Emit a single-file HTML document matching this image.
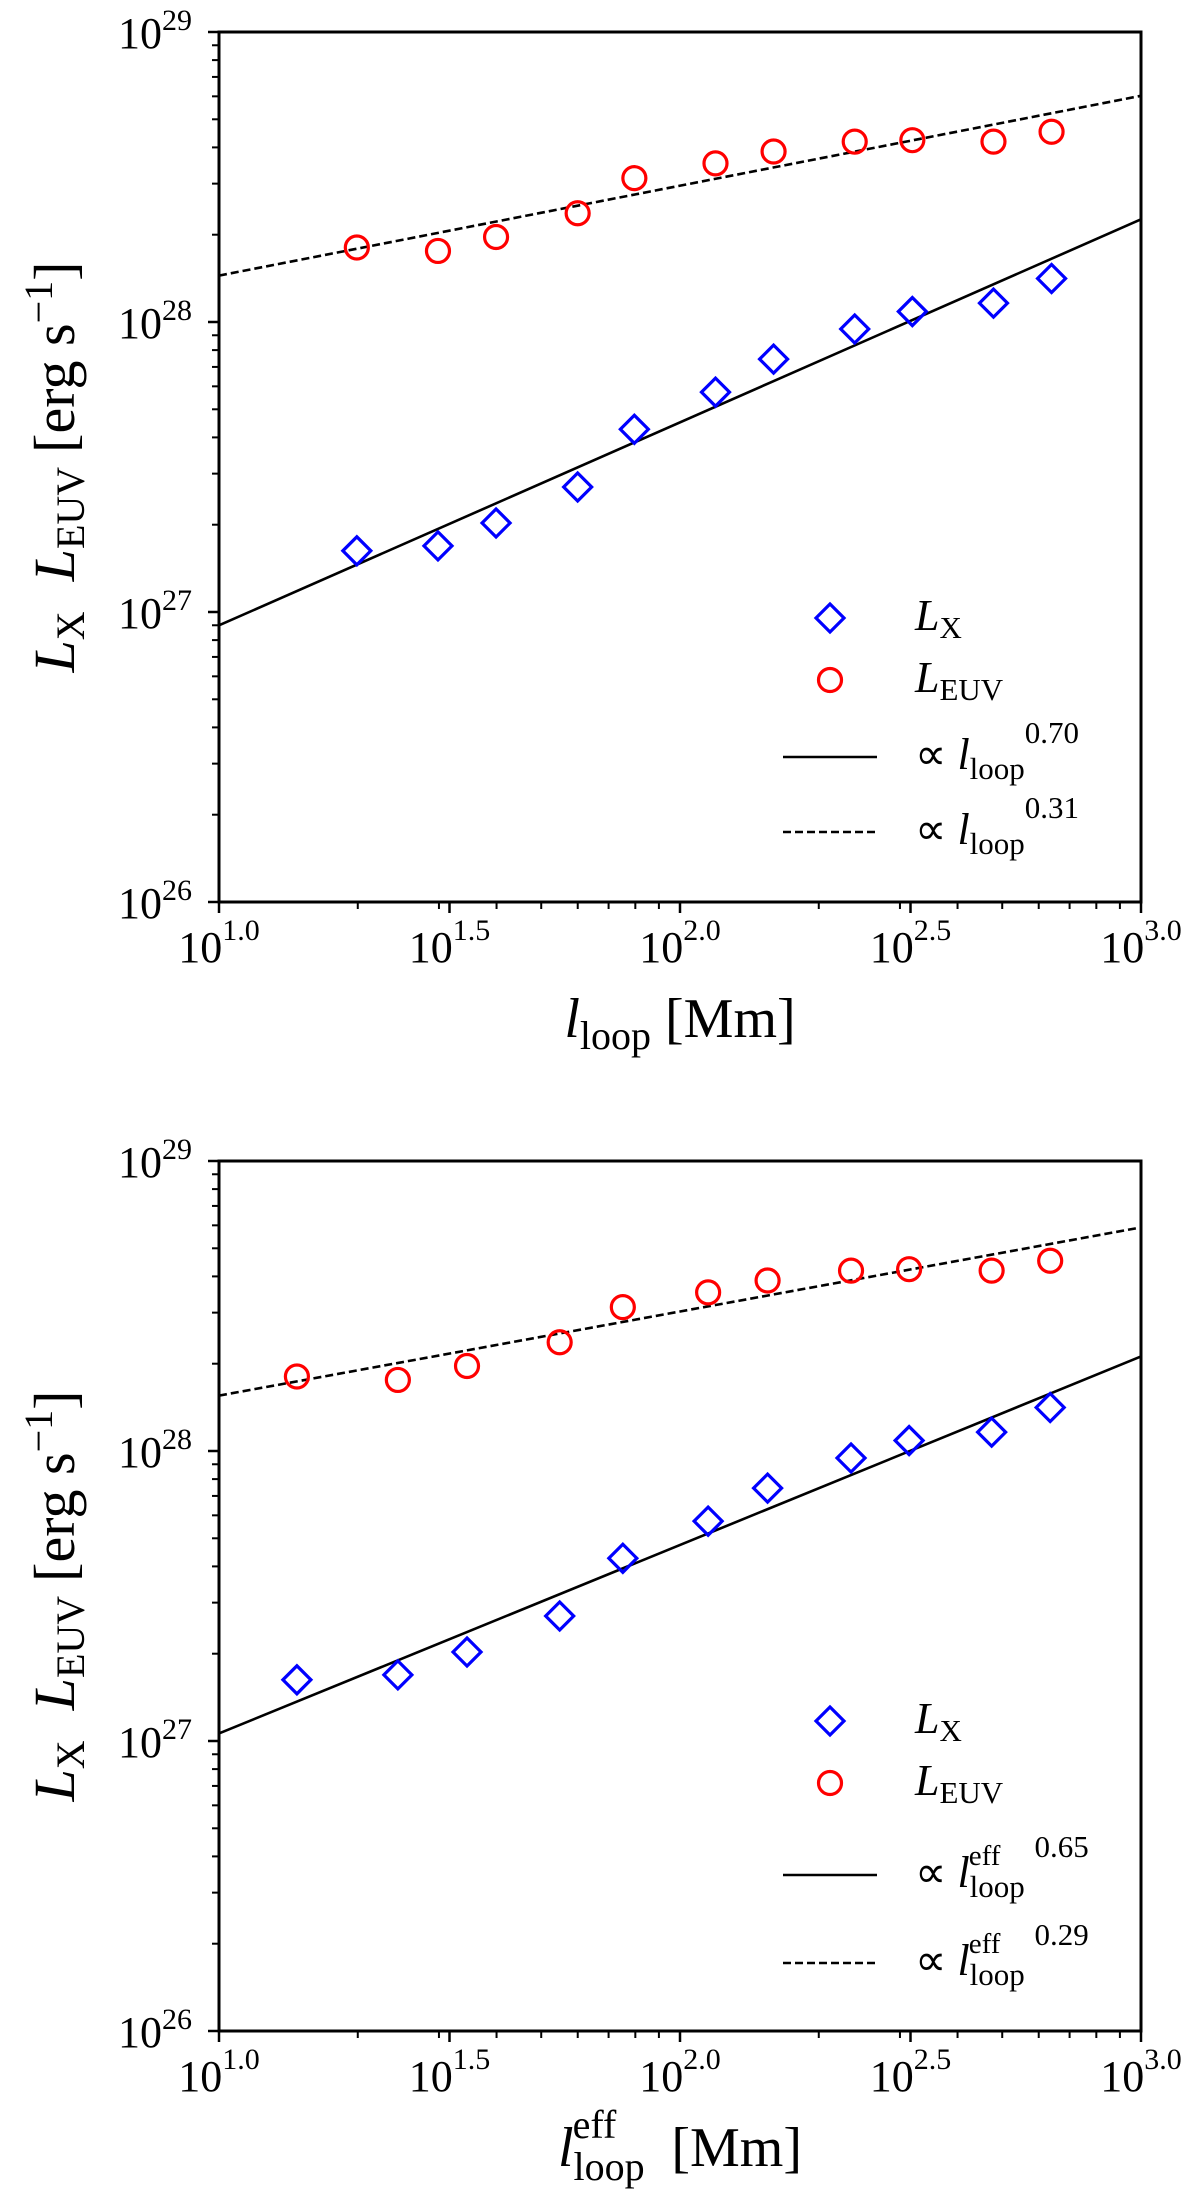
<!DOCTYPE html>
<html><head><meta charset="utf-8"><style>
html,body{margin:0;padding:0;background:#fff;}
svg{display:block;font-family:"Liberation Serif",serif;}
</style></head><body>
<svg id="fig" width="1200" height="2202" viewBox="0 0 1200 2202" xmlns="http://www.w3.org/2000/svg"></svg>
<script>
// Data (log10 values)
const topLogL = [1.299,1.475,1.601,1.778,1.901,2.077,2.203,2.379,2.504,2.680,2.806];
const botLogL = [1.169,1.388,1.538,1.739,1.876,2.061,2.190,2.371,2.497,2.676,2.803];
const logLX = [27.211,27.228,27.307,27.431,27.630,27.758,27.872,27.976,28.036,28.065,28.150];
const logLEUV = [28.257,28.245,28.293,28.375,28.496,28.547,28.588,28.622,28.627,28.622,28.656];
const topFitX = [26.954, 0.70];
const topFitEUV = [28.160, 0.31];
const botFitX = [27.026, 0.65];
const botFitEUV = [28.191, 0.29];
const xTickLabels = ["1.0","1.5","2.0","2.5","3.0"];
const yTickLabels = ["26","27","28","29"];

const NS="http://www.w3.org/2000/svg";
const svg=document.getElementById('fig');
function mk(tag,attrs,parent){const e=document.createElementNS(NS,tag);for(const k in attrs)e.setAttribute(k,attrs[k]);(parent||svg).appendChild(e);return e;}

function panel(top, logL, fitX, fitEUV, eff, name){
  const L=219,R=1141,T=top,B=top+870;
  const xs=v=>L+(v-1)/2*(R-L);
  const ys=v=>B-(v-26)/3*(B-T);
  const g=mk('g',{});
  
  
  const l1=mk('line',{x1:xs(1),y1:ys(fitX[0]),x2:xs(3),y2:ys(fitX[0]+2*fitX[1]),stroke:'#000','stroke-width':2.6},g);
  
  
  const l2=mk('line',{x1:xs(1),y1:ys(fitEUV[0]),x2:xs(3),y2:ys(fitEUV[0]+2*fitEUV[1]),stroke:'#000','stroke-width':2.6,'stroke-dasharray':'8,4'},g);
  
  
  logL.forEach((v,i)=>{
    const cx=xs(v),cy=ys(logLX[i]);
    const d=mk('polygon',{points:`${cx},${cy-14} ${cx+14},${cy} ${cx},${cy+14} ${cx-14},${cy}`,fill:'none',stroke:'#0000ff','stroke-width':3.2},g);
    
    
    const c=mk('circle',{cx:cx,cy:ys(logLEUV[i]),r:11.5,fill:'none',stroke:'#ff0000','stroke-width':3.2},g);
    
    
  });
  const f=mk('rect',{x:L,y:T,width:R-L,height:B-T,fill:'none',stroke:'#000','stroke-width':3},g);
  
  
  yTickLabels.forEach((lab,i)=>{
    const e=+lab, y=ys(e);
    mk('line',{x1:L-11,y1:y,x2:L,y2:y,stroke:'#000','stroke-width':2.5},g);
    const t=mk('text',{x:L-27,y:y+16,'text-anchor':'end','font-size':44},g);
    
    
    t.innerHTML=`10<tspan dy="-18" font-size="30">${lab}</tspan>`;
    if(i<yTickLabels.length-1){for(let m=2;m<=9;m++){const yy=ys(e+Math.log10(m));mk('line',{x1:L-7,y1:yy,x2:L,y2:yy,stroke:'#000','stroke-width':2},g);}}
  });
  xTickLabels.forEach(lab=>{
    const v=+lab,x=xs(v);
    mk('line',{x1:x,y1:B,x2:x,y2:B+11,stroke:'#000','stroke-width':2.5},g);
    const t=mk('text',{x:x,y:B+60,'text-anchor':'middle','font-size':44},g);
    
    
    t.innerHTML=`10<tspan dy="-22" font-size="30">${lab}</tspan>`;
  });
  for(let d=1;d<=2;d++)for(let m=2;m<=9;m++){const x=xs(d+Math.log10(m));mk('line',{x1:x,y1:B,x2:x,y2:B+7,stroke:'#000','stroke-width':2},g);}
  const yl=mk('text',{transform:`translate(74,${(T+B)/2}) rotate(-90)`,'text-anchor':'middle','font-size':58},g);
  
  
  yl.innerHTML=`<tspan font-style="italic">L</tspan><tspan dy="10" font-size="40">X</tspan><tspan dx="30" dy="-10" font-style="italic">L</tspan><tspan dy="10" font-size="40">EUV</tspan><tspan dx="14" dy="-10">[erg s</tspan><tspan dy="-22" font-size="40">−1</tspan><tspan dy="22">]</tspan>`;
  const xl=mk('text',{x:(L+R)/2,y:B+135,'text-anchor':'middle','font-size':56},g);
  
  
  xl.innerHTML=eff?`<tspan font-style="italic">l</tspan><tspan dy="14" font-size="40">loop</tspan><tspan dx="-72" dy="-42" font-size="40">eff</tspan><tspan dx="55" dy="28">[Mm]</tspan>`:`<tspan font-style="italic">l</tspan><tspan dy="12" font-size="40">loop</tspan><tspan dx="14" dy="-12">[Mm]</tspan>`;
  const ly = eff ? T+560 : T+586;
  const sp = eff ? [0,62,154,242] : [0,62,139,214];
  const lg=mk('g',{},g);
  
  
  const dx=830;
  mk('polygon',{points:`${dx},${ly-14} ${dx+14},${ly} ${dx},${ly+14} ${dx-14},${ly}`,fill:'none',stroke:'#0000ff','stroke-width':3.2},lg);
  mk('circle',{cx:dx,cy:ly+sp[1],r:11.5,fill:'none',stroke:'#ff0000','stroke-width':3.2},lg);
  mk('line',{x1:783,y1:ly+sp[2],x2:877,y2:ly+sp[2],stroke:'#000','stroke-width':2.6},lg);
  mk('line',{x1:783,y1:ly+sp[3],x2:877,y2:ly+sp[3],stroke:'#000','stroke-width':2.6,'stroke-dasharray':'8,4'},lg);
  const t1=mk('text',{x:915,y:ly+12,'font-size':44},lg);
  
  
  t1.innerHTML=`<tspan font-style="italic">L</tspan><tspan dy="8" font-size="31">X</tspan>`;
  const t2=mk('text',{x:915,y:ly+sp[1]+12,'font-size':44},lg);
  
  
  t2.innerHTML=`<tspan font-style="italic">L</tspan><tspan dy="8" font-size="31">EUV</tspan>`;
  [[sp[2],fitX[1]],[sp[3],fitEUV[1]]].forEach(([o,s])=>{
    const t=mk('text',{x:915,y:ly+o+12,'font-size':44},lg);
    
    
    t.innerHTML= eff
      ? `∝ <tspan font-style="italic">l</tspan><tspan dy="10" font-size="31">loop</tspan><tspan dx="-56" dy="-32" font-size="29">eff</tspan><tspan dx="34" dy="-8" font-size="31">${s.toFixed(2)}</tspan>`
      : `∝ <tspan font-style="italic">l</tspan><tspan dy="10" font-size="31">loop</tspan><tspan dy="-36" font-size="31">${s.toFixed(2)}</tspan>`;
  });
}
panel(32, topLogL, topFitX, topFitEUV, false, 'top-panel');
panel(1161, botLogL, botFitX, botFitEUV, true, 'bottom-panel');
</script>
</body></html>
